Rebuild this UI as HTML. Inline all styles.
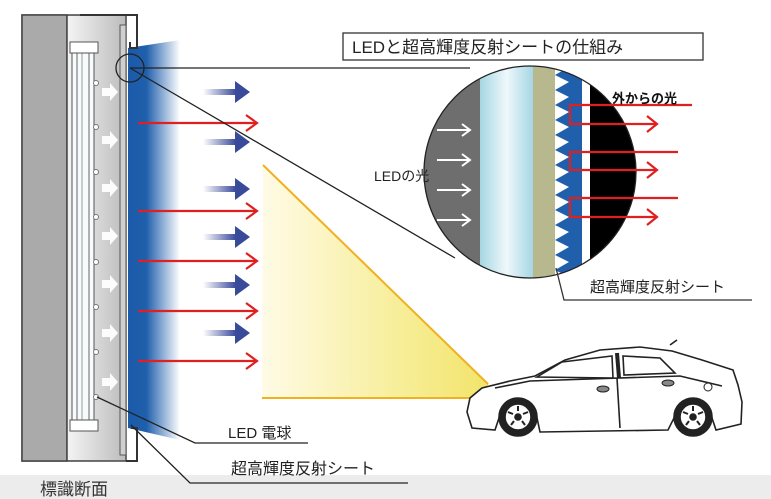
<!DOCTYPE html>
<html><head><meta charset="utf-8"><style>
html,body{margin:0;padding:0;background:#fff;}
svg{display:block;}
text{font-family:"Liberation Sans","Noto Sans CJK JP",sans-serif;}
</style></head><body>
<svg width="771" height="499" viewBox="0 0 771 499" xmlns="http://www.w3.org/2000/svg">
<defs>
<linearGradient id="bl" x1="0" x2="1" y1="0" y2="0">
<stop offset="0" stop-color="#1a5aa8"/><stop offset="0.35" stop-color="#1f5fac"/><stop offset="1" stop-color="#1f5fac" stop-opacity="0"/>
</linearGradient>
<linearGradient id="ar" x1="0" x2="1"><stop offset="0" stop-color="#3a4a9a" stop-opacity="0"/><stop offset="0.7" stop-color="#3a4a9a"/></linearGradient>
<linearGradient id="ye" x1="0" x2="1" y1="0" y2="0"><stop offset="0" stop-color="#fffbe6"/><stop offset="0.6" stop-color="#f7ee9a"/><stop offset="1" stop-color="#f2e46a"/></linearGradient>
<linearGradient id="lg" x1="0" x2="1"><stop offset="0" stop-color="#f4f4f4"/><stop offset="1" stop-color="#bdbdbd"/></linearGradient>
<linearGradient id="lb" x1="0" x2="1"><stop offset="0" stop-color="#a6d6e3"/><stop offset="0.5" stop-color="#eef8fb"/><stop offset="1" stop-color="#a6d6e3"/></linearGradient>
<clipPath id="cc"><circle cx="530" cy="172" r="106"/></clipPath>
</defs>
<rect x="0" y="475" width="771" height="24" fill="#ececec"/>
<text x="40" y="495" font-size="17" fill="#333">標識断面</text>
<!-- yellow beam -->
<polygon points="263,165 488,384 488,398 262,398" fill="url(#ye)"/>
<line x1="263" y1="165" x2="488" y2="384" stroke="#f0b020" stroke-width="2"/>
<line x1="262" y1="398" x2="488" y2="398" stroke="#f0b020" stroke-width="2"/>
<!-- blue light -->
<path d="M128,48 L180,40 L180,440 L128,428 Z" fill="url(#bl)"/>
<!-- sign -->
<rect x="22" y="15" width="104" height="446" fill="#d8d8d8" stroke="#444" stroke-width="1.5"/>
<rect x="22" y="15" width="45" height="446" fill="#aaaaaa" stroke="#444" stroke-width="1.5"/>
<rect x="67" y="16" width="58" height="444" fill="url(#lg)"/>
<line x1="67" y1="15" x2="67" y2="461" stroke="#444" stroke-width="1.5"/>
<rect x="72" y="46" width="22" height="380" fill="#f6fbfc" stroke="#555" stroke-width="1"/>
<line x1="77" y1="50" x2="77" y2="422" stroke="#666"/><line x1="82" y1="50" x2="82" y2="422" stroke="#999"/><line x1="89" y1="50" x2="89" y2="422" stroke="#666"/>
<rect x="70" y="42" width="28" height="11" fill="#fff" stroke="#555"/>
<rect x="70" y="420" width="28" height="11" fill="#fff" stroke="#555"/>
<rect x="120" y="25" width="6" height="430" fill="#cfcfcf" stroke="#555"/>
<path d="M80,15 L137,15 L137,48 L130,48 L130,42" fill="none" stroke="#333" stroke-width="2"/>
<path d="M126,461 L137,461 L137,428 L131,428" fill="none" stroke="#333" stroke-width="2"/>
<g fill="#fff" opacity="0.95">
<path d="M102,88 h8 v-5 l8,9 l-8,9 v-5 h-8z"/>
<path d="M102,136 h8 v-5 l8,9 l-8,9 v-5 h-8z"/>
<path d="M102,184 h8 v-5 l8,9 l-8,9 v-5 h-8z"/>
<path d="M102,232 h8 v-5 l8,9 l-8,9 v-5 h-8z"/>
<path d="M102,280 h8 v-5 l8,9 l-8,9 v-5 h-8z"/>
<path d="M102,329 h8 v-5 l8,9 l-8,9 v-5 h-8z"/>
<path d="M102,378 h8 v-5 l8,9 l-8,9 v-5 h-8z"/>
</g>
<g fill="#fff" stroke="#777"><circle cx="96" cy="83" r="2.5"/><circle cx="96" cy="127" r="2.5"/><circle cx="96" cy="172" r="2.5"/><circle cx="96" cy="217" r="2.5"/><circle cx="96" cy="262" r="2.5"/><circle cx="96" cy="307" r="2.5"/><circle cx="96" cy="352" r="2.5"/><circle cx="96" cy="397" r="2.5"/></g>
<!-- blue arrows -->
<g fill="url(#ar)">
<path d="M203,89 h32 v-8 l15,11 l-15,11 v-8 h-32z"/>
<path d="M203,139 h32 v-8 l15,11 l-15,11 v-8 h-32z"/>
<path d="M203,186 h32 v-8 l15,11 l-15,11 v-8 h-32z"/>
<path d="M203,234 h32 v-8 l15,11 l-15,11 v-8 h-32z"/>
<path d="M203,282 h32 v-8 l15,11 l-15,11 v-8 h-32z"/>
<path d="M203,330 h32 v-8 l15,11 l-15,11 v-8 h-32z"/>
</g>
<!-- red arrows -->
<g stroke="#e02020" stroke-width="2.2" fill="none">
<path d="M138,123 H257 M246,115 L257,123 L246,131"/>
<path d="M138,211 H257 M246,203 L257,211 L246,219"/>
<path d="M138,261 H257 M246,253 L257,261 L246,269"/>
<path d="M138,311 H257 M246,303 L257,311 L246,319"/>
<path d="M138,361 H257 M246,353 L257,361 L246,369"/>
</g>
<!-- magnifier -->
<circle cx="130" cy="68" r="14" fill="none" stroke="#222" stroke-width="1.3"/>
<line x1="130" y1="68" x2="470" y2="68" stroke="#222" stroke-width="1.3"/>
<line x1="130" y1="68" x2="455" y2="258" stroke="#222" stroke-width="1.3"/>
<g clip-path="url(#cc)">
<rect x="420" y="60" width="60" height="230" fill="#6e6e6e"/>
<rect x="480" y="60" width="53" height="230" fill="url(#lb)"/>
<rect x="533" y="60" width="22" height="230" fill="#b8b88e"/>
<rect x="555" y="60" width="27" height="230" fill="#1f5fac"/>
<path d="M555,60 L569,67 L555,75 L569,82 L555,90 L569,97 L555,105 L569,112 L555,120 L569,127 L555,135 L569,142 L555,150 L569,157 L555,165 L569,172 L555,180 L569,187 L555,195 L569,202 L555,210 L569,217 L555,225 L569,232 L555,240 L569,247 L555,255 L569,262 L555,270 L569,277 L555,285Z" fill="#fff"/>
<rect x="582" y="60" width="8" height="230" fill="#fff"/>
<rect x="590" y="60" width="50" height="230" fill="#000"/>
<g stroke="#fff" stroke-width="2" fill="none">
<path d="M437,130 H470 M462,124 L470,130 L462,136"/>
<path d="M437,160 H470 M462,154 L470,160 L462,166"/>
<path d="M437,190 H470 M462,184 L470,190 L462,196"/>
<path d="M437,220 H470 M462,214 L470,220 L462,226"/>
</g>
</g>
<circle cx="530" cy="172" r="106" fill="none" stroke="#222" stroke-width="1.3"/>
<text x="374" y="181" font-size="14" fill="#222">LEDの光</text>
<g stroke="#e02020" stroke-width="2.2" fill="none">
<path d="M692,105 H570 V124 H657 M647,116 L657,124 L647,132"/>
<path d="M678,152 H570 V170 H657 M647,162 L657,170 L647,178"/>
<path d="M678,198 H570 V217 H657 M647,209 L657,217 L647,225"/>
</g>
<text x="612" y="103" font-size="13" font-weight="bold" fill="#111">外からの光</text>
<rect x="343" y="33" width="360" height="27" fill="#fff" stroke="#333" stroke-width="1.3"/>
<text x="352" y="53" font-size="17" fill="#222">LEDと超高輝度反射シートの仕組み</text>
<path d="M556,268 L564,300 H752" fill="none" stroke="#333" stroke-width="1.3"/>
<text x="590" y="292" font-size="15" fill="#222">超高輝度反射シート</text>
<!-- bottom labels -->
<path d="M97,397 L195,443 H308" fill="none" stroke="#222" stroke-width="1.3"/>
<text x="228" y="438" font-size="15" fill="#222">LED 電球</text>
<path d="M131,425 L190,483 H408" fill="none" stroke="#222" stroke-width="1.3"/>
<text x="231" y="474" font-size="16" fill="#222">超高輝度反射シート</text>
<!-- car -->
<g stroke="#222" stroke-width="1.6" fill="#fff">
<path d="M472,428 L467,412 L470,398 L482,388 L510,381 L535,376 L565,360 L600,350 L640,347 L672,351 L702,360 L733,370 L738,385 L742,402 L741,424 L716,430 L712,418 A20,20 0 0 0 674,418 L668,430 L540,432 L537,418 A20,20 0 0 0 499,418 L495,430Z"/>
<path d="M537,377 L562,362 L612,356 L613,378Z"/>
<path d="M623,356 L660,358 L675,373 L624,375Z"/>
<line x1="617" y1="353" x2="619" y2="378" stroke-width="4"/>
<path d="M495,388 L530,381 L680,376 L722,386"/>
<line x1="617" y1="378" x2="620" y2="428"/>
<line x1="670" y1="345" x2="677" y2="340"/>
<circle cx="518" cy="417" r="19" fill="#222"/><circle cx="518" cy="417" r="13" fill="#fff"/><circle cx="518" cy="417" r="3" fill="#222"/>
<circle cx="693" cy="417" r="19" fill="#222"/><circle cx="693" cy="417" r="13" fill="#fff"/><circle cx="693" cy="417" r="3" fill="#222"/>
<ellipse cx="603" cy="389" rx="6" ry="3" fill="#888" stroke-width="1"/>
<ellipse cx="668" cy="383" rx="6" ry="3" fill="#888" stroke-width="1"/>
<circle cx="708" cy="387" r="4" fill="#fff" stroke-width="1"/>
</g>
<g stroke="#222" stroke-width="2"><path d="M518,406 V411 M508,412 L513,414 M528,412 L523,414 M511,425 L514,421 M525,425 L522,421 M693,406 V411 M683,412 L688,414 M703,412 L698,414 M686,425 L689,421 M700,425 L697,421"/></g>
</svg>
</body></html>
